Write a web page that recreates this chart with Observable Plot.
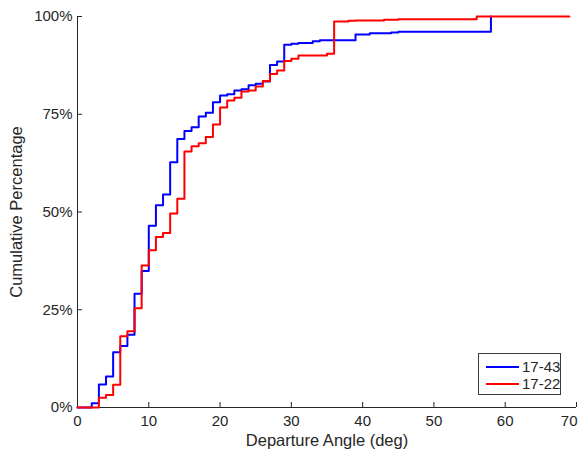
<!DOCTYPE html>
<html>
<head>
<meta charset="utf-8">
<script src="https://cdn.jsdelivr.net/npm/d3@7"></script>
<script src="https://cdn.jsdelivr.net/npm/@observablehq/plot@0.6"></script>
<style>
  html, body { margin: 0; padding: 0; background: #fff; }
  #wrap { position: relative; width: 578px; height: 457px; font-family: "Liberation Sans", Arial, sans-serif; }
  #legend { position: absolute; left: 478px; top: 353px; width: 83px; height: 42px; border: 1px solid #3a3a3a; background: #fff; box-sizing: border-box; }
  .row { position: absolute; left: 7px; height: 17px; display: flex; align-items: center; font-size: 15px; color: #262626; white-space: nowrap; }
  .sw { width: 33px; height: 2px; margin-right: 3px; flex: none; }
</style>
</head>
<body>
<div id="wrap"></div>
<script>
const seriesNames = ["17-43", "17-22"];
const seriesColors = ["#0000ff", "#ff0000"];

const blueX = [0, 2, 3, 4, 5, 6, 7, 8, 9, 10, 11, 12, 13, 14, 15, 16, 17, 18, 19, 20, 21, 22, 23, 24, 25, 26, 27, 28, 29, 30, 31, 33, 34, 39, 41, 44, 45, 58];
const blueY = [0, 1.1, 5.9, 7.9, 14.1, 15.7, 18.6, 29.1, 34.9, 46.5, 51.7, 54.5, 62.7, 68.7, 70.7, 71.7, 74.4, 75.4, 78.1, 79.8, 80.1, 81.1, 81.4, 82.4, 82.8, 83.4, 87.6, 88.5, 92.8, 93.0, 93.2, 93.7, 93.9, 95.4, 95.7, 95.9, 96.1, 100];

const redX = [0, 3, 4, 5, 6, 7, 8, 9, 10, 11, 12, 13, 14, 15, 16, 17, 18, 19, 20, 21, 22, 23, 24, 25, 26, 27, 28, 29, 30, 31, 35, 36, 38, 39, 43, 45, 56, 69];
const redY = [0, 2.5, 3.2, 5.8, 18.2, 19.5, 25.4, 36.3, 40.2, 43.6, 44.6, 49.6, 53.4, 65.5, 66.8, 67.6, 69.2, 72.4, 76.7, 78.5, 79.2, 80.8, 81.1, 82.1, 83.5, 85.3, 86.2, 88.6, 89.2, 90.0, 90.5, 98.7, 98.9, 99.0, 99.2, 99.3, 100, 100];

const xTicks = [0, 10, 20, 30, 40, 50, 60, 70];
const yTicks = [0, 25, 50, 75, 100];

const data = [
  ...blueX.map((x, i) => ({series: seriesNames[0], x, y: blueY[i]})),
  ...redX.map((x, i) => ({series: seriesNames[1], x, y: redY[i]}))
];

const W = 578, H = 457, mL = 77, mR = 2, mT = 16, mB = 50;
const frameW = W - mL - mR, frameH = H - mT - mB;
const ink = "#262626";

const chart = Plot.plot({
  width: W,
  height: H,
  marginLeft: mL,
  marginRight: mR,
  marginTop: mT,
  marginBottom: mB,
  style: {fontFamily: "'Liberation Sans', Arial, sans-serif", fontSize: "15px", color: ink, background: "#fff"},
  x: {domain: [0, 70], ticks: xTicks},
  y: {domain: [0, 100], ticks: yTicks},
  color: {domain: seriesNames, range: seriesColors},
  marks: [
    Plot.axisX({ticks: xTicks, tickSize: 0, tickPadding: 8, fontSize: 15, label: "Departure Angle (deg)", labelArrow: "none", labelAnchor: "center", labelOffset: 38, color: ink}),
    Plot.axisY({ticks: yTicks, tickSize: 0, tickPadding: 5, fontSize: 15, tickFormat: d => d + "%", label: "Cumulative Percentage", labelArrow: "none", labelAnchor: "center", labelOffset: 67, color: ink}),
    Plot.tickX(xTicks, {x: d => d, stroke: ink, strokeWidth: 1, insetTop: frameH - 5}),
    Plot.tickY(yTicks, {y: d => d, stroke: ink, strokeWidth: 1, insetRight: frameW - 5}),
    Plot.ruleX([0], {stroke: ink, strokeWidth: 1}),
    Plot.ruleY([0], {stroke: ink, strokeWidth: 1}),
    Plot.line(data, {x: "x", y: "y", z: "series", stroke: "series", strokeWidth: 2, curve: "step-after"})
  ]
});

chart.querySelectorAll('g[aria-label="x-axis label"] text, g[aria-label="y-axis label"] text').forEach(t => {
  t.setAttribute("font-size", "16.5");
  t.textContent = t.textContent.replace(/\s*[→↑←↓]\s*/g, "");
});
// keep the last x tick label inside the picture
const xTickTexts = chart.querySelectorAll('g[aria-label="x-axis tick label"] text');
if (xTickTexts.length) {
  const last = xTickTexts[xTickTexts.length - 1];
  last.setAttribute("text-anchor", "end");
  last.setAttribute("dx", "1");
}

const wrap = document.getElementById("wrap");
wrap.appendChild(chart);

const legend = document.createElement("div");
legend.id = "legend";
seriesNames.forEach((name, i) => {
  const row = document.createElement("div");
  row.className = "row";
  row.style.top = (i === 0 ? 4 : 21) + "px";
  const sw = document.createElement("div");
  sw.className = "sw";
  sw.style.background = seriesColors[i];
  const label = document.createElement("span");
  label.textContent = name;
  row.appendChild(sw);
  row.appendChild(label);
  legend.appendChild(row);
});
wrap.appendChild(legend);
</script>
</body>
</html>
